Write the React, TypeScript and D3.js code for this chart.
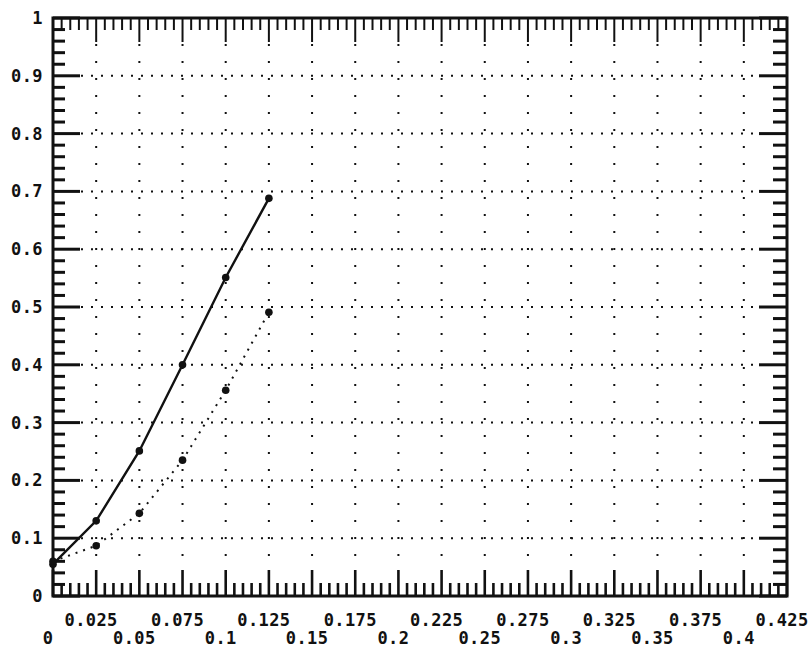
import React from 'react';
import * as d3 from 'd3';

// values
const xValues = [0, 0.025, 0.05, 0.075, 0.1, 0.125];
const solidSeries = [0.055, 0.13, 0.251, 0.4, 0.551, 0.688];
const dottedSeries = [0.06, 0.087, 0.143, 0.235, 0.356, 0.491];

const xTickLabels = ['0', '0.025', '0.05', '0.075', '0.1', '0.125', '0.15', '0.175', '0.2', '0.225',
  '0.25', '0.275', '0.3', '0.325', '0.35', '0.375', '0.4', '0.425'];
const yTickLabels = ['0', '0.1', '0.2', '0.3', '0.4', '0.5', '0.6', '0.7', '0.8', '0.9', '1'];

const W = 810;
const H = 652;
const left = 53, right = 787, top = 18, bottom = 596;
const font = '"DejaVu Sans Mono", monospace';
const ink = '#111';

export default function App() {
  const x = d3.scaleLinear().domain([0, 0.425]).range([left, right]);
  const y = d3.scaleLinear().domain([0, 1]).range([bottom, top]);

  const xMajor = xTickLabels.map(Number);
  const yMajor = yTickLabels.map(Number);
  const xMinor = d3.range(0, 86).map(i => i * 0.005);
  const yMinor = d3.range(0, 51).map(i => i * 0.02);

  const isXMajor = (v: number) => Math.abs(v / 0.025 - Math.round(v / 0.025)) < 1e-6;
  const isYMajor = (v: number) => Math.abs(v / 0.1 - Math.round(v / 0.1)) < 1e-6;

  const line = d3.line<number>()
    .x((d, i) => x(xValues[i]))
    .y(d => y(d));

  return (
    <svg width={W} height={H} style={{ position: 'absolute', left: 0, top: 0, background: '#fff' }}>
      {/* grid */}
      <g stroke={ink} strokeWidth={2}>
        {xMajor.slice(1, -1).map(v => (
          <line key={'gx' + v} x1={x(v)} x2={x(v)} y1={top + 26} y2={bottom - 26}
            strokeDasharray="2,15" />
        ))}
        {yMajor.slice(1, -1).map(v => (
          <line key={'gy' + v} x1={left + 28} x2={right - 28} y1={y(v)} y2={y(v)}
            strokeDasharray="2,8" />
        ))}
      </g>

      {/* ticks */}
      <g stroke={ink} strokeWidth={2.6}>
        {xMinor.map(v => {
          const maj = isXMajor(v);
          return (
            <g key={'tx' + v}>
              <line x1={x(v)} x2={x(v)} y1={bottom} y2={bottom - (maj ? 26 : 13)} />
              <line x1={x(v)} x2={x(v)} y1={top} y2={top + (maj ? 24 : 12)} strokeWidth={2} />
            </g>
          );
        })}
        {yMinor.map(v => {
          const maj = isYMajor(v);
          return (
            <g key={'ty' + v}>
              <line x1={left} x2={left + (maj ? 27 : 12)} y1={y(v)} y2={y(v)} strokeWidth={3} />
              <line x1={right} x2={right - (maj ? 28 : 14)} y1={y(v)} y2={y(v)} strokeWidth={3} />
            </g>
          );
        })}
      </g>

      {/* frame */}
      <rect x={left} y={top} width={right - left} height={bottom - top}
        fill="none" stroke={ink} strokeWidth={3} />

      {/* series */}
      <path d={line(solidSeries) || ''} fill="none" stroke={ink} strokeWidth={2.4} />
      <path d={line(dottedSeries) || ''} fill="none" stroke={ink} strokeWidth={2}
        strokeDasharray="2,6" />
      {solidSeries.map((v, i) => (
        <circle key={'s' + i} cx={x(xValues[i])} cy={y(v)} r={3.8} fill={ink} />
      ))}
      {dottedSeries.map((v, i) => (
        <circle key={'d' + i} cx={x(xValues[i])} cy={y(v)} r={3.8} fill={ink} />
      ))}

      {/* labels */}
      <g fontFamily={font} fontSize={17} fontWeight="bold" fill={ink} letterSpacing={0.4}>
        {yTickLabels.map(t => (
          <text key={'ly' + t} x={43} y={y(+t)} dy="0.35em" textAnchor="end">{t}</text>
        ))}
        {xTickLabels.map((t, i) => (
          <text key={'lx' + t} x={x(+t) - 5} y={i % 2 === 0 ? 644 : 626} textAnchor="middle">{t}</text>
        ))}
      </g>
    </svg>
  );
}
